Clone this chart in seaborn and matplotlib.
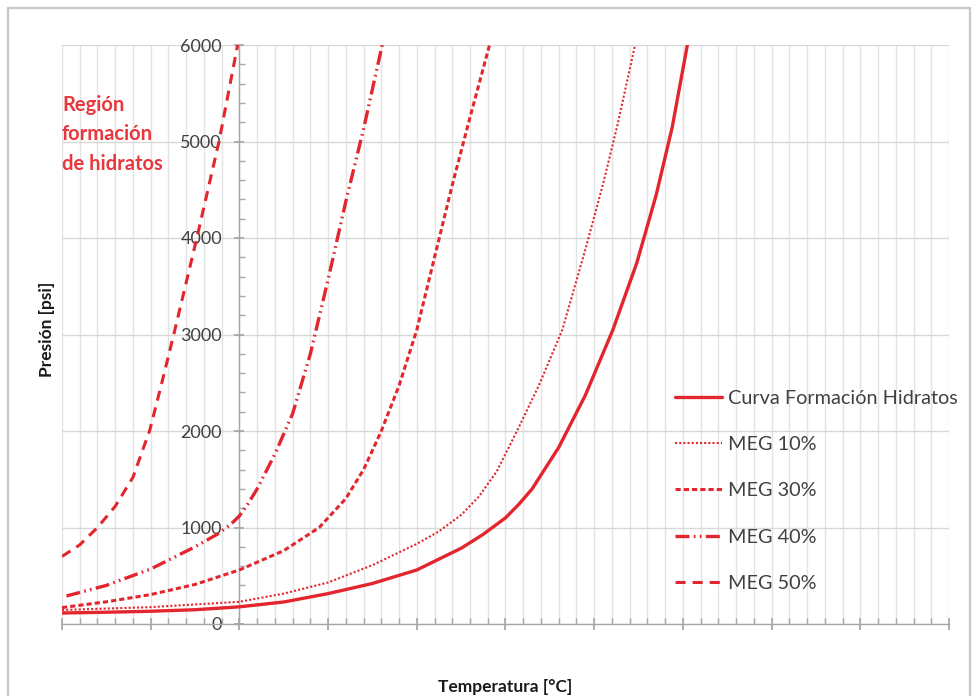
import matplotlib
matplotlib.use("Agg")
import matplotlib.pyplot as plt
from matplotlib.patches import Rectangle
from matplotlib.ticker import MultipleLocator
import seaborn as sns
import pandas as pd

# ── datos (T en °C, P en psi) ────────────────────────────────
T_CURVA = [-20, -15, -10, -5, 0, 5, 10, 15, 20, 25, 27.5, 30, 31.5, 33, 36, 39,
           42.1, 44.8, 47, 48.8, 50.5]
P_CURVA = [114, 122, 132, 148, 178, 228, 315, 420, 560, 785, 930, 1100, 1240,
           1400, 1830, 2370, 3047, 3741, 4450, 5150, 6000]

T_MEG10 = [-20, -10, 0, 5, 10, 15, 20, 22.5, 25, 27, 29, 31.3, 33.8, 36.4, 39,
           41, 42.7, 44.6]
P_MEG10 = [145, 175, 230, 315, 430, 610, 830, 960, 1130, 1320, 1580, 2000, 2480,
           3047, 3880, 4560, 5200, 6000]

T_MEG30 = [-20, -15, -10, -5, 0, 5, 9, 12, 14, 16, 18, 20, 22, 24, 26, 28.2]
P_MEG30 = [170, 230, 305, 410, 560, 760, 1000, 1300, 1600, 2000, 2470, 3047,
           3800, 4550, 5250, 6000]

T_MEG40 = [-19.5, -15, -10, -5, -2.5, -1, 0, 1, 2, 4, 6, 8, 10, 12, 14, 16.1]
P_MEG40 = [290, 400, 570, 800, 930, 1030, 1120, 1250, 1400, 1760, 2180, 2800,
           3570, 4380, 5130, 6000]

T_MEG50 = [-20, -18, -16, -14, -12, -10.1, -8.8, -7.4, -4.8, -2.3, -0.2]
P_MEG50 = [700, 820, 1000, 1220, 1520, 2010, 2480, 3000, 4000, 5000, 6000]

SERIES = ["Curva Formación Hidratos", "MEG 10%", "MEG 30%", "MEG 40%", "MEG 50%"]
Y_TICKS = [0, 1000, 2000, 3000, 4000, 5000, 6000]

RED = "#E3262E"
GRID = "#e3e3e3"
TXT = "#404040"

# estilo de cada curva: (linestyle, ancho)
STYLES = {
    "Curva Formación Hidratos": ("-", 2.4),
    "MEG 10%": ((0, (1, 1)), 1.5),
    "MEG 30%": ((0, (1.7, 1)), 2.2),
    "MEG 40%": ((0, (4.2, 1.3, 0.5, 1.3, 0.5, 1.3)), 2.4),
    "MEG 50%": ((0, (3.3, 2.3)), 2.2),
}

frames = []
for name, t, p in zip(SERIES, [T_CURVA, T_MEG10, T_MEG30, T_MEG40, T_MEG50],
                      [P_CURVA, P_MEG10, P_MEG30, P_MEG40, P_MEG50]):
    frames.append(pd.DataFrame({"T": t, "P": p, "serie": name}))
df = pd.concat(frames, ignore_index=True)

sns.set_theme(style="white")
plt.rcParams["font.family"] = ["Lato", "DejaVu Sans"]

fig = plt.figure(figsize=(9.78, 6.96), dpi=100)
ax = fig.add_axes([62 / 978, 1 - 624 / 696, (949 - 62) / 978, (624 - 45) / 696])

for name in SERIES:
    ls, lw = STYLES[name]
    sns.lineplot(data=df[df["serie"] == name], x="T", y="P", ax=ax,
                 color=RED, linestyle=ls, linewidth=lw, label=name,
                 sort=False, estimator=None, zorder=3)

ax.set_xlim(-20, 80)
ax.set_ylim(0, 6000)
ax.xaxis.set_major_locator(MultipleLocator(10))
ax.xaxis.set_minor_locator(MultipleLocator(2))
ax.set_yticks(Y_TICKS)
ax.yaxis.set_minor_locator(MultipleLocator(200))

ax.xaxis.grid(True, which="both", color=GRID, lw=1.0, zorder=0)
ax.yaxis.grid(True, which="major", color="#d9d9d9", lw=1.0, zorder=0)
ax.set_axisbelow(True)

for s in ["top", "right"]:
    ax.spines[s].set_visible(False)
ax.spines["left"].set_position(("data", 0))
for s in ["left", "bottom"]:
    ax.spines[s].set_color("#a6a6a6")
    ax.spines[s].set_linewidth(1.0)

ax.tick_params(axis="x", which="major", direction="inout", length=8, color="#a6a6a6",
               labelbottom=False, bottom=True)
ax.tick_params(axis="x", which="minor", direction="in", length=4, color="#a6a6a6",
               bottom=True)
ax.tick_params(axis="y", which="major", direction="inout", length=7, color="#a6a6a6",
               labelsize=13, labelcolor=TXT, pad=9, left=True)
ax.tick_params(axis="y", which="minor", direction="in", length=4, color="#a6a6a6",
               left=True)

ax.set_xlabel("Temperatura [°C]", fontsize=12.5, fontweight="bold", color="#1a1a1a")
ax.xaxis.set_label_coords(0.5, -0.095)
ax.set_ylabel("Presión [psi]", fontsize=12.5, fontweight="bold", color="#1a1a1a")
ax.yaxis.set_label_coords(-0.008, 0.509)

ax.text(0.0, 0.914, "Región\nformación\nde hidratos", transform=ax.transAxes,
        ha="left", va="top", color="#E8373D", fontsize=14.5, fontweight="bold",
        linespacing=1.59)

leg = ax.legend(loc="upper left", bbox_to_anchor=(675 / 978, 1 - 390 / 696),
                bbox_transform=fig.transFigure, frameon=False, fontsize=14.3,
                handlelength=2.37, handletextpad=0.3, labelspacing=1.47,
                borderpad=0, borderaxespad=0)
for t in leg.get_texts():
    t.set_color(TXT)

fig.patches.append(Rectangle((8 / 978, -0.02), (970 - 8) / 978, 1.02 - 8 / 696,
                             transform=fig.transFigure, fill=False,
                             edgecolor="#c8c8c8", lw=1.6))

fig.savefig("out.png", dpi=100, facecolor="white")
